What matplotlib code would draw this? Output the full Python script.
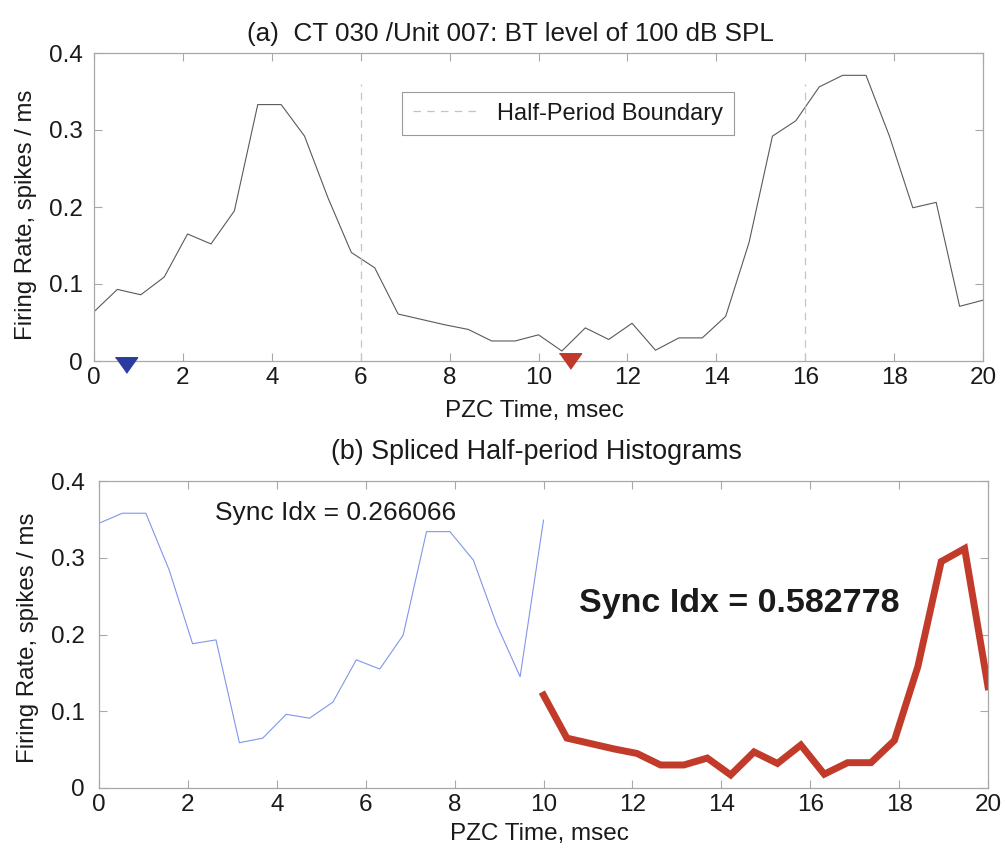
import numpy as np
import matplotlib
matplotlib.use("Agg")
import matplotlib.pyplot as plt

plt.rcParams['font.family'] = ['Liberation Sans', 'DejaVu Sans']

# ---- data ----
top_times = [0.000, 0.526, 1.053, 1.579, 2.105, 2.632, 3.158, 3.684, 4.211, 4.737,
             5.263, 5.789, 6.316, 6.842, 7.368, 7.895, 8.421, 8.947, 9.474, 10.000,
             10.526, 11.053, 11.579, 12.105, 12.632, 13.158, 13.684, 14.211, 14.737, 15.263,
             15.789, 16.316, 16.842, 17.368, 17.895, 18.421, 18.947, 19.474, 20.000]
top_rate = [0.064, 0.093, 0.086, 0.109, 0.165, 0.152, 0.195, 0.333, 0.333, 0.292,
            0.212, 0.141, 0.121, 0.061, 0.054, 0.047, 0.041, 0.026, 0.026, 0.034,
            0.013, 0.043, 0.028, 0.049, 0.014, 0.030, 0.030, 0.058, 0.154, 0.292,
            0.312, 0.356, 0.371, 0.371, 0.292, 0.199, 0.206, 0.071, 0.079]
boundaries = [6, 16]
boundary_top = 0.36
marker_times = [0.72, 10.7]
marker_levels = [-0.005, 0.0]
marker_colors = ['#2b3b9e', '#c0392b']

blue_times = [0.000, 0.526, 1.053, 1.579, 2.105, 2.632, 3.158, 3.684, 4.211, 4.737,
              5.263, 5.789, 6.316, 6.842, 7.368, 7.895, 8.421, 8.947, 9.474, 10.000]
blue_rate = [0.345, 0.358, 0.358, 0.284, 0.188, 0.193, 0.059, 0.065, 0.096, 0.091,
             0.112, 0.167, 0.155, 0.199, 0.334, 0.334, 0.297, 0.213, 0.145, 0.349]
red_times = [10.000, 10.526, 11.053, 11.579, 12.105, 12.632, 13.158, 13.684, 14.211, 14.737,
             15.263, 15.789, 16.316, 16.842, 17.368, 17.895, 18.421, 18.947, 19.474, 20.000]
red_rate = [0.121, 0.065, 0.058, 0.051, 0.045, 0.030, 0.030, 0.039, 0.017, 0.047,
            0.032, 0.056, 0.018, 0.033, 0.033, 0.062, 0.158, 0.295, 0.312, 0.132]

xticks = [0, 2, 4, 6, 8, 10, 12, 14, 16, 18, 20]
yticks = [0, 0.1, 0.2, 0.3, 0.4]
ytick_labels = ['0', '0.1', '0.2', '0.3', '0.4']

title_a = "(a)  CT 030 /Unit 007: BT level of 100 dB SPL"
title_b = "(b) Spliced Half-period Histograms"
xlabel = "PZC Time, msec"
ylabel = "Firing Rate, spikes / ms"
sync_small = "Sync Idx = 0.266066"
sync_big = "Sync Idx = 0.582778"

# ---- figure ----
W, H = 1005, 851
fig = plt.figure(figsize=(W / 100, H / 100), dpi=100)
ax1 = fig.add_axes([94 / W, 1 - 361 / H, (983 - 94) / W, (361 - 53) / H])
ax2 = fig.add_axes([99 / W, 1 - 788 / H, (988 - 99) / W, (788 - 481) / H])

spine_col = '#a8a8a8'
for ax in (ax1, ax2):
    ax.set_xlim(0, 20)
    ax.set_ylim(0, 0.4)
    ax.set_xticks(xticks)
    ax.set_yticks(yticks)
    ax.set_yticklabels(ytick_labels)
    ax.tick_params(direction='in', top=True, right=True, length=6, width=0.8,
                   color=spine_col, labelsize=17.5, labelcolor='#1a1a1a')
    ax.tick_params(axis='x', pad=4)
    for s in ax.spines.values():
        s.set_color(spine_col)
        s.set_linewidth(0.9)
ax1.tick_params(axis='y', pad=8)
ax2.tick_params(axis='y', pad=10)

ax1.set_xlabel(xlabel, fontsize=17.5, color='#1a1a1a', labelpad=8.5)
ax2.set_xlabel(xlabel, fontsize=17.5, color='#1a1a1a', labelpad=5.5)
ax1.xaxis.label.set_x(0.495)
ax2.xaxis.label.set_x(0.495)
ax1.set_ylabel(ylabel, fontsize=17.3, color='#1a1a1a', labelpad=8.6)
ax2.set_ylabel(ylabel, fontsize=17.3, color='#1a1a1a', labelpad=8.5)
ax1.yaxis.label.set_y(0.474)
ax2.yaxis.label.set_y(0.489)

# top panel
ax1.plot(top_times, top_rate, color='#5a5a5a', lw=0.8)
for i, b in enumerate(boundaries):
    ax1.plot([b, b], [0, boundary_top], ls=(0, (6, 5)), color='#c4c4c4', lw=0.9,
             label='Half-Period Boundary' if i == 0 else None)
tri = [(-1, 0.7), (1, 0.7), (0, -0.7)]
for t, lv, c in zip(marker_times, marker_levels, marker_colors):
    ax1.plot([t], [lv], marker=tri, ms=16, color=c, ls='none', clip_on=False, zorder=5)
ax1.set_title(title_a, fontsize=18.8, color='#1a1a1a', pad=9, x=0.468)
leg = ax1.legend(loc='upper left', bbox_to_anchor=(0.3465, 0.8735), fontsize=17,
                 fancybox=False, framealpha=1, edgecolor='#9a9a9a', handlelength=2.75,
                 borderpad=0.45, handletextpad=0.82, borderaxespad=0)
leg.get_frame().set_linewidth(0.8)
for txt in leg.get_texts():
    txt.set_color('#1a1a1a')

# bottom panel
ax2.plot(blue_times, blue_rate, color='#8196ea', lw=0.8)
ax2.plot(red_times, red_rate, color='#c23b2a', lw=5, solid_joinstyle='miter')
ax2.set_title(title_b, fontsize=19.4, color='#1a1a1a', pad=16, x=0.492)
ax2.text(2.6, 0.358, sync_small, fontsize=19, color='#1a1a1a', ha='left', va='center')
ax2.text(10.8, 0.241, sync_big, fontsize=24.5, fontweight='bold', color='#1a1a1a',
         ha='left', va='center')

fig.savefig('out.png', dpi=100)
